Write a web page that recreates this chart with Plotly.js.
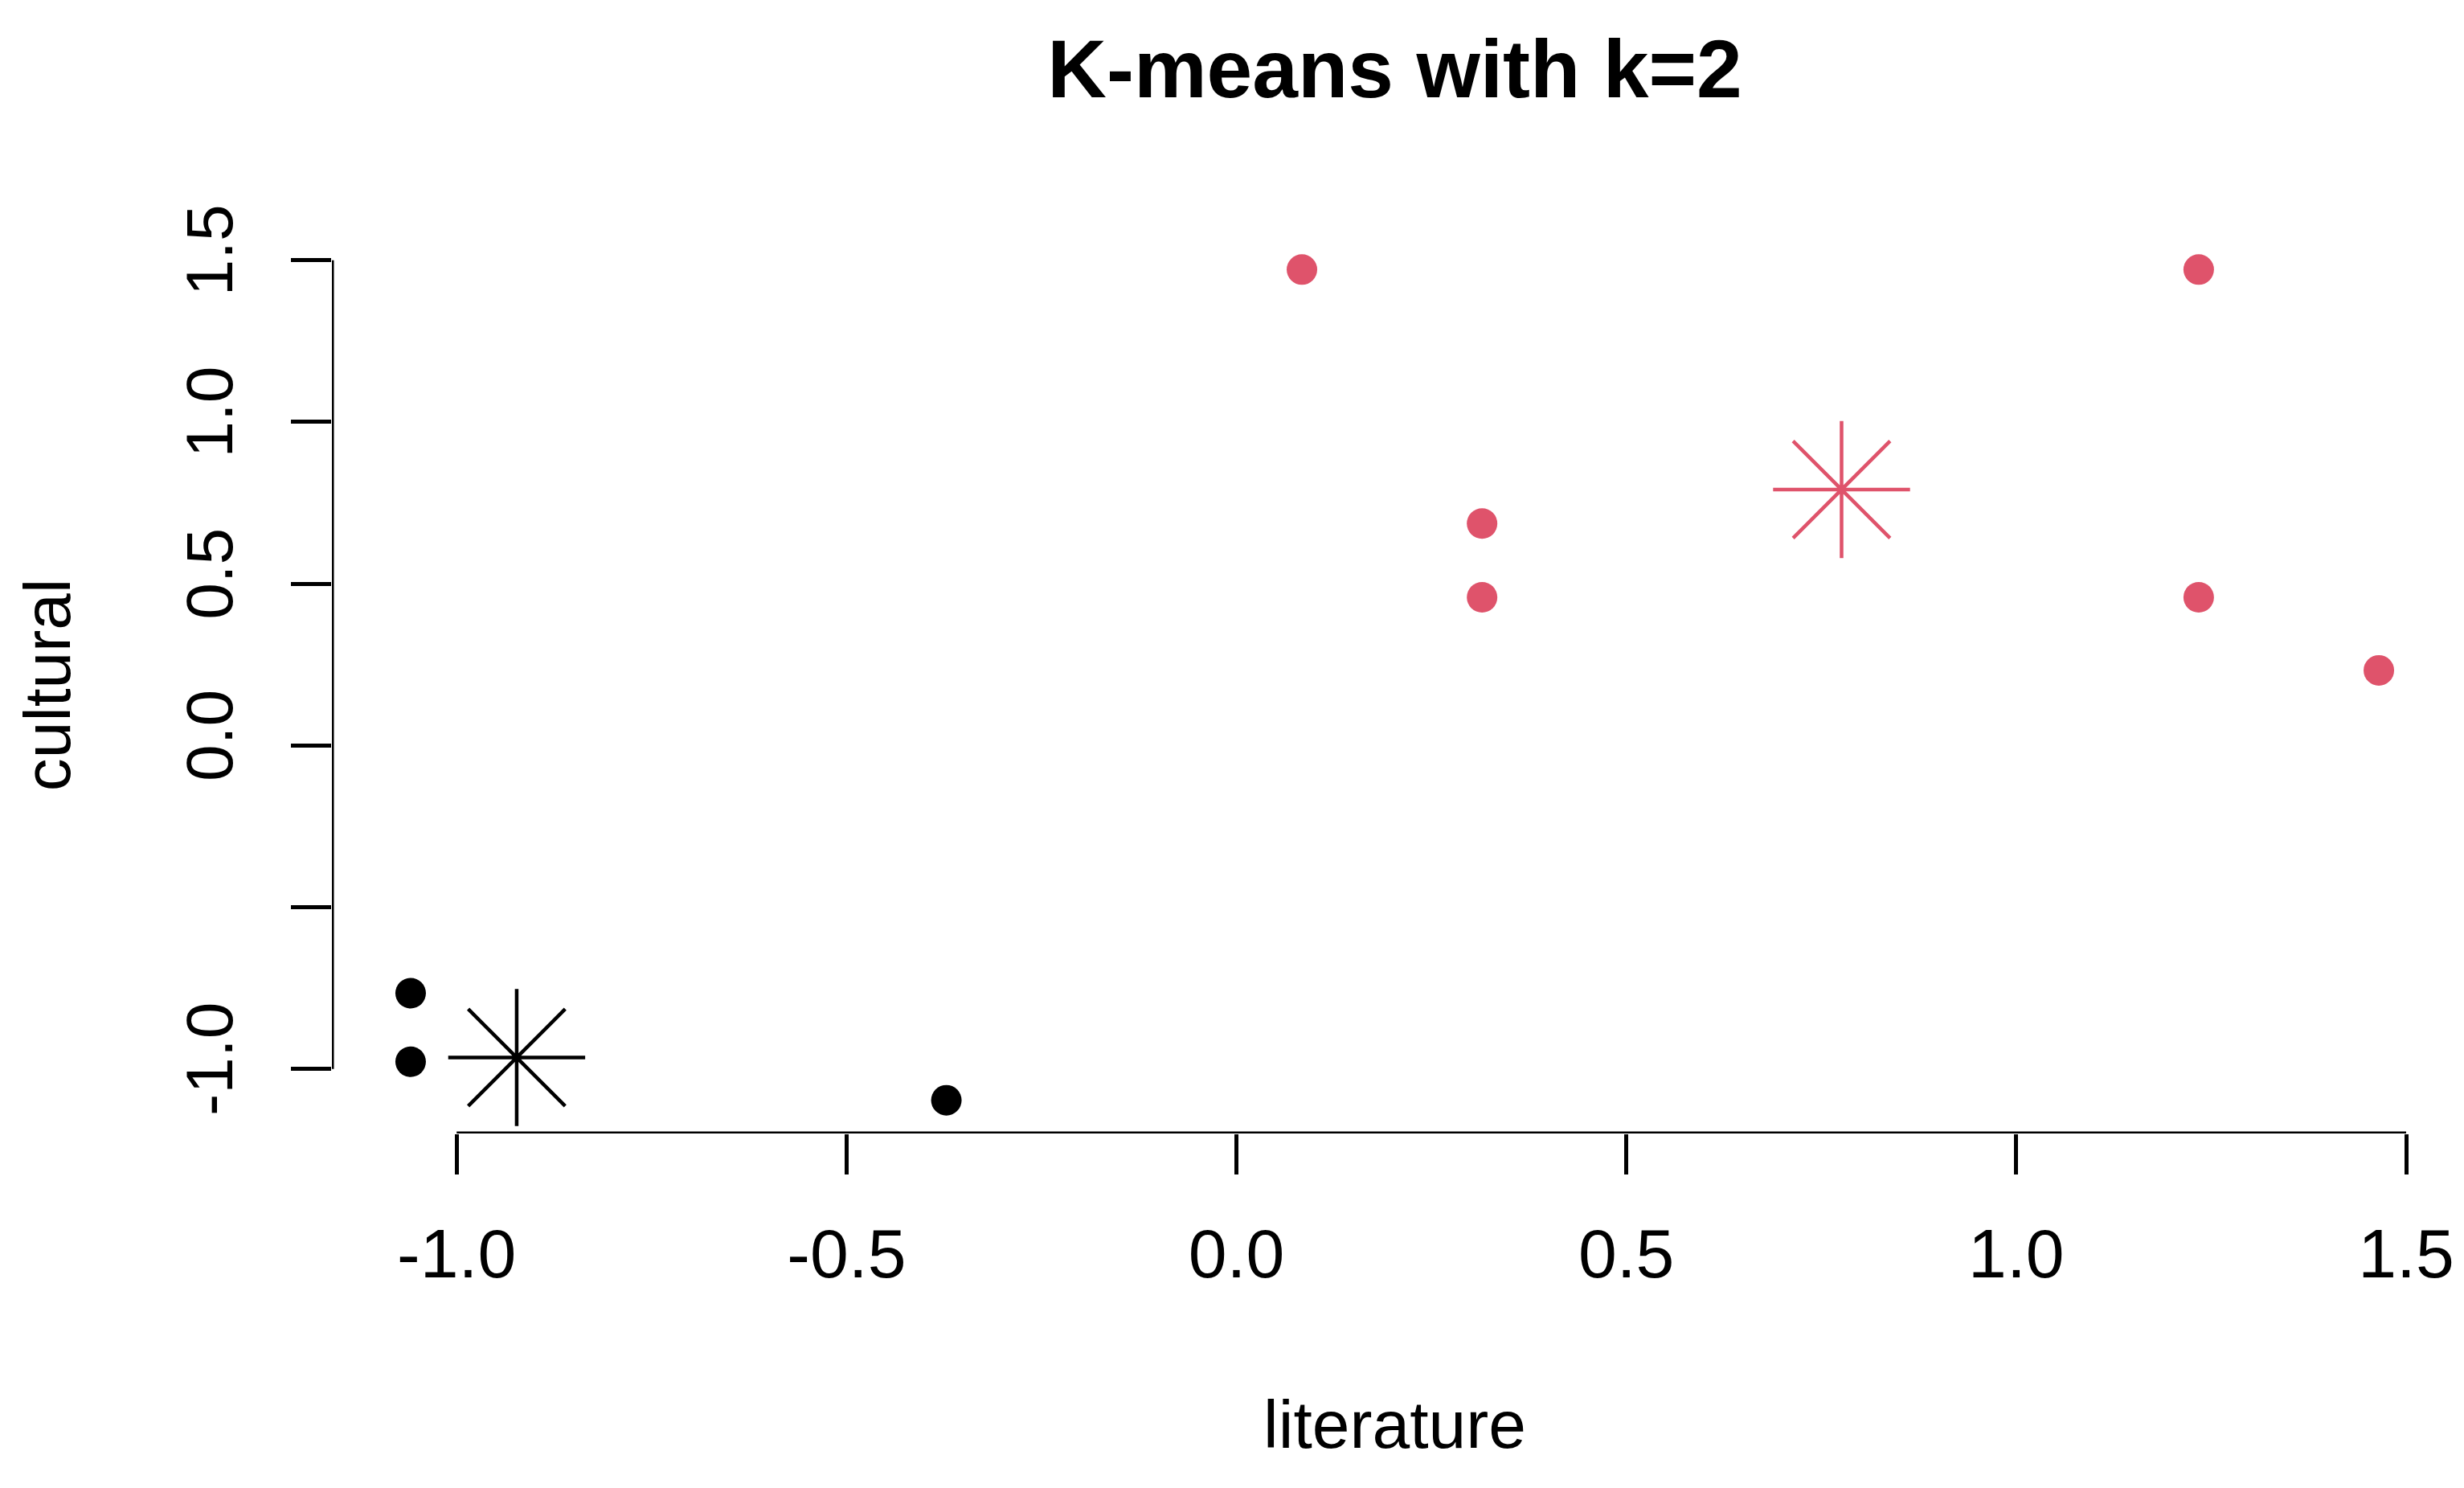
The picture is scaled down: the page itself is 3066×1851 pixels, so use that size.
<!DOCTYPE html>
<html>
<head>
<meta charset="utf-8">
<script src="https://cdn.plot.ly/plotly-3.0.1.min.js"></script>
<style>html,body{margin:0;padding:0;background:#fff;}#chart{width:3066px;height:1851px;}</style>
</head>
<body>
<div id="chart"></div>
<script>
// Cluster 1 (black)
const cluster1Literature = [-1.059, -1.059, -0.372];
const cluster1Cultural   = [-0.766, -0.978, -1.097];
// Cluster 2 (red)
const cluster2Literature = [0.084, 1.234, 0.315, 0.315, 1.234, 1.465];
const cluster2Cultural   = [1.471, 1.471, 0.686, 0.458, 0.458, 0.232];
// Cluster centers
const centerLiterature = [-0.923, 0.776];
const centerCultural   = [-0.965, 0.791];
const clusterColors = ['#000000', '#DF536B'];
// Ticks
const xTicks = [-1.0, -0.5, 0.0, 0.5, 1.0, 1.5];
const xTickLabels = ['-1.0', '-0.5', '0.0', '0.5', '1.0', '1.5'];
const yTicks = [-1.0, -0.5, 0.0, 0.5, 1.0, 1.5];
const yTickLabels = ['-1.0', '', '0.0', '0.5', '1.0', '1.5'];

function extRange(arr) {
  const mn = Math.min(...arr), mx = Math.max(...arr), r = mx - mn;
  return [mn - 0.04 * r, mx + 0.04 * r];
}
const xRange = extRange(cluster1Literature.concat(cluster2Literature));
const yRange = extRange(cluster1Cultural.concat(cluster2Cultural));

const FONT = '"Liberation Sans", Arial, sans-serif';

const traces = [
  { type: 'scatter', mode: 'markers', x: cluster1Literature, y: cluster1Cultural,
    marker: { color: clusterColors[0], size: 38, symbol: 'circle' }, cliponaxis: false, hoverinfo: 'x+y' },
  { type: 'scatter', mode: 'markers', x: cluster2Literature, y: cluster2Cultural,
    marker: { color: clusterColors[1], size: 38, symbol: 'circle' }, cliponaxis: false, hoverinfo: 'x+y' },
  { type: 'scatter', mode: 'markers', x: centerLiterature, y: centerCultural,
    marker: { symbol: 'asterisk-open', size: 142, color: clusterColors,
              line: { color: clusterColors, width: 4.5 } }, cliponaxis: false, hoverinfo: 'x+y' },
  // R-style axis lines spanning first to last tick
  { type: 'scatter', mode: 'lines', x: [xTicks[0], xTicks[xTicks.length - 1]], y: [yRange[0], yRange[0]],
    line: { color: '#000', width: 5 }, cliponaxis: false, hoverinfo: 'skip' },
  { type: 'scatter', mode: 'lines', x: [xRange[0], xRange[0]], y: [yTicks[0], yTicks[yTicks.length - 1]],
    line: { color: '#000', width: 5 }, cliponaxis: false, hoverinfo: 'skip' }
];

const layout = {
  width: 3066, height: 1851,
  paper_bgcolor: '#ffffff', plot_bgcolor: '#ffffff',
  showlegend: false,
  margin: { l: 413, r: 8, t: 294, b: 441 },
  font: { family: FONT, color: '#000' },
  title: { text: '<b>K-means with k=2</b>', font: { family: FONT, size: 102, color: '#000' },
           x: 0.5, xref: 'paper', xanchor: 'center', y: 1 - 85 / 1851, yref: 'container', yanchor: 'middle' },
  xaxis: {
    range: xRange, showgrid: false, zeroline: false, showline: false,
    tickmode: 'array', tickvals: xTicks, ticktext: xTickLabels,
    ticks: 'outside', ticklen: 50, tickwidth: 5, tickcolor: '#000',
    tickfont: { family: FONT, size: 86, color: '#000' }, ticklabelstandoff: 25,
    title: { text: 'literature', font: { family: FONT, size: 84, color: '#000' }, standoff: 135 }
  },
  yaxis: {
    range: yRange, showgrid: false, zeroline: false, showline: false,
    tickmode: 'array', tickvals: yTicks, ticktext: yTickLabels, tickangle: -90,
    ticks: 'outside', ticklen: 50, tickwidth: 5, tickcolor: '#000',
    tickfont: { family: FONT, size: 82, color: '#000' }, ticklabelstandoff: 40,
    title: { text: 'cultural', font: { family: FONT, size: 82, color: '#000' }, standoff: 100 }
  }
};

Plotly.newPlot('chart', traces, layout, { displayModeBar: false, staticPlot: true });
</script>
</body>
</html>
